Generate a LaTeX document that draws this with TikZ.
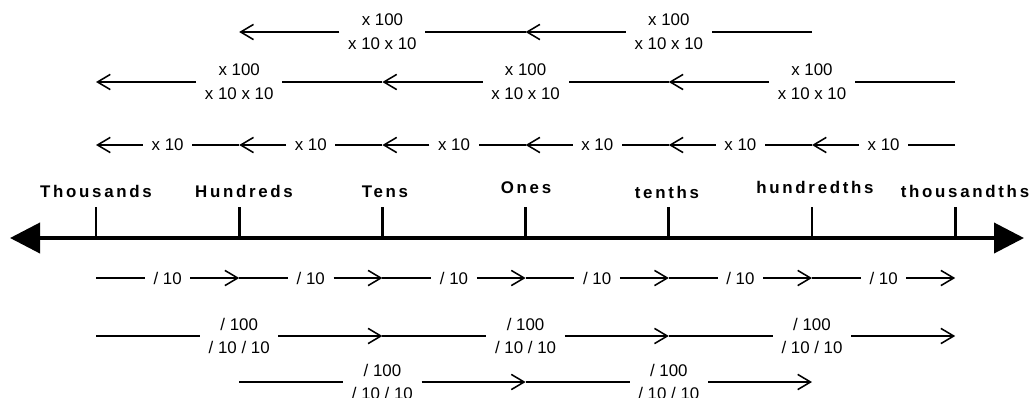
\documentclass[tikz,border=0pt]{standalone}
\usepackage{fontspec}
\setmainfont{Liberation Sans}
\newfontfamily\placefont[LetterSpace=16]{Liberation Sans}
\usetikzlibrary{arrows.meta}
\tikzset{
  op/.style={font=\fontsize{12}{17}\selectfont, align=center, inner xsep=6pt, inner ysep=0pt},
  conn/.style={line width=1.1pt},
  arr/.style={conn, -{Straight Barb[length=3.2mm,width=3.8mm]}},
  place/.style={font=\placefont\bfseries\fontsize{12}{14}\selectfont, anchor=base},
  bigtip/.tip={Triangle[length=7.5mm,width=7.5mm]}
}
\begin{document}
\begin{tikzpicture}[x=0.025cm,y=-0.025cm]
  \useasboundingbox (0,0) rectangle (1034,397);
  % number line
  \foreach \i in {0,...,6} \coordinate (t\i) at (96+143.2*\i,238);
  \coordinate (L) at (10,238);
  \coordinate (R) at (1024,238);
  \draw [line width=2.8pt, bigtip-bigtip] (L) -- (R);
  \foreach \i in {0,...,6} \draw [line width=2pt] (t\i) -- ++(0,-31);
  % place names
  \node [place] (th) at (96,197) {Thousands};
  \node [place] (hu) at (244,197) {Hundreds};
  \node [place] (te) at (385,197) {Tens};
  \node [place] (on) at (526,193) {Ones};
  \node [place] (tt) at (667,198) {tenths};
  \node [place] (ht) at (815,193) {hundredths};
  \node [place] (tht) at (965,197) {thousandths};
  % x 10 and / 10
  \foreach \i in {0,...,5} {
    \node [op] (mul\i) at (167.6+143.2*\i,145) {x 10};
    \draw [arr] (mul\i) -- (96+143.2*\i,145);
    \draw [conn] (239.2+143.2*\i,145) -- (mul\i);
    \node [op] (div\i) at (167.6+143.2*\i,278) {/ 10};
    \draw [conn] (96+143.2*\i,278) -- (div\i);
    \draw [arr] (div\i) -- (239.2+143.2*\i,278);
  }
  % x 100
  \foreach \a/\y in {1/32,3/32,0/82,2/82,4/82} {
    \node [op] (hmul\a) at (239.2+143.2*\a,\y) {x 100\\x 10 x 10};
    \draw [arr] (hmul\a) -- (96+143.2*\a,\y);
    \draw [conn] (382.4+143.2*\a,\y) -- (hmul\a);
  }
  % / 100
  \foreach \a/\y in {0/336,2/336,4/336,1/382,3/382} {
    \node [op] (hdiv\a) at (239.2+143.2*\a,\y) {/ 100\\/ 10 / 10};
    \draw [conn] (96+143.2*\a,\y) -- (hdiv\a);
    \draw [arr] (hdiv\a) -- (382.4+143.2*\a,\y);
  }
\end{tikzpicture}
\end{document}
